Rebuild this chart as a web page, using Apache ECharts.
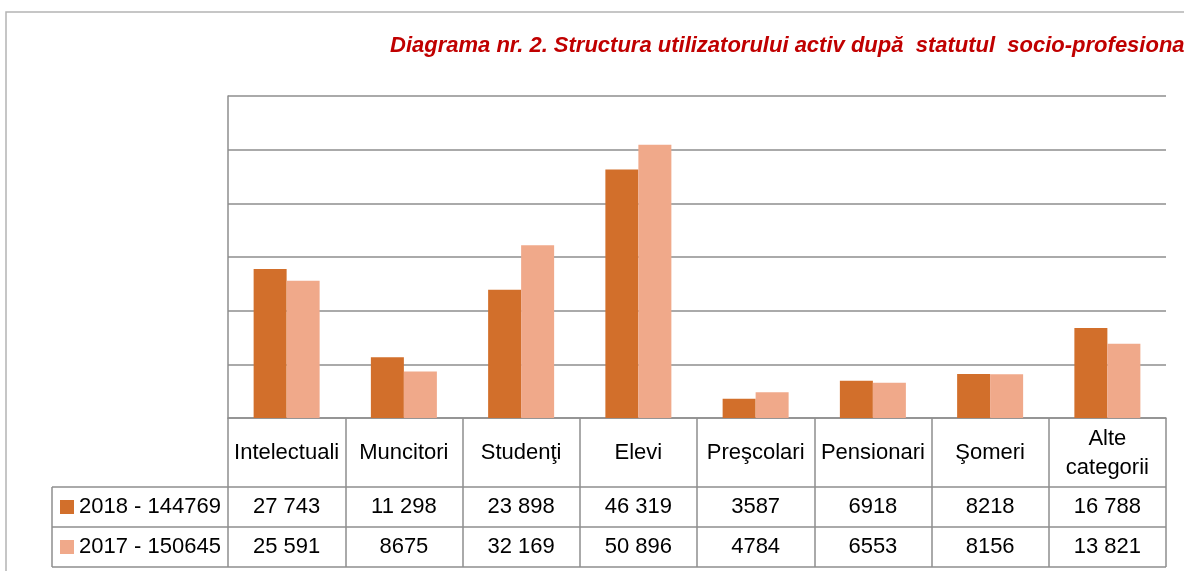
<!DOCTYPE html>
<html>
<head>
<meta charset="utf-8">
<script src="https://cdn.jsdelivr.net/npm/echarts@6/dist/echarts.min.js"></script>
<style>
  html, body { margin: 0; padding: 0; background: #fff; }
  #chart { width: 1184px; height: 571px; }
</style>
</head>
<body>
<div id="chart"></div>
<script>
const categories = ["Intelectuali", "Muncitori", "Studenţi", "Elevi", "Preşcolari", "Pensionari", "Şomeri", "Alte\ncategorii"];
const years = ["2018", "2017"];
const values2018 = [27743, 11298, 23898, 46319, 3587, 6918, 8218, 16788];
const values2017 = [25591, 8675, 32169, 50896, 4784, 6553, 8156, 13821];

const font = "'Liberation Sans', Arial, sans-serif";
const lineColor = "#8e8e8e";

// 27743 -> "27 743", 8675 -> "8675"
function fmt(v) {
  return v >= 10000 ? String(v).replace(/\B(?=(\d{3})+(?!\d))/g, " ") : String(v);
}
const sum = (arr) => arr.reduce((a, b) => a + b, 0);
const name2018 = years[0] + " - " + sum(values2018);
const name2017 = years[1] + " - " + sum(values2017);

const chart = echarts.init(document.getElementById("chart"));

const gridBox = { left: 228, right: 18, top: 96, bottom: 153 };

const option = {
  animation: false,
  title: {
    text: "Diagrama nr. 2. Structura utilizatorului activ după  statutul  socio-profesional",
    left: 390,
    top: 35,
    padding: 0,
    textStyle: {
      color: "#C00000",
      fontStyle: "italic",
      fontWeight: "bold",
      fontSize: 22,
      fontFamily: font,
    },
  },
  legend: {
    data: [name2018, name2017],
    orient: "vertical",
    left: 60,
    top: 496,
    padding: 0,
    itemGap: 18,
    icon: "rect",
    itemWidth: 14,
    itemHeight: 14,
    selectedMode: false,
    textStyle: { fontSize: 22, fontFamily: font, color: "#000", lineHeight: 22 },
  },
  grid: [
    Object.assign({}, gridBox),
    Object.assign({}, gridBox),
    Object.assign({}, gridBox),
  ],
  xAxis: [
    {
      type: "category",
      gridIndex: 0,
      data: categories,
      axisLine: { lineStyle: { color: lineColor, width: 1.5 } },
      axisTick: { show: true, length: 149, lineStyle: { color: lineColor, width: 1.5 } },
      axisLabel: {
        interval: 0,
        margin: 35,
        verticalAlign: "middle",
        fontSize: 22,
        lineHeight: 29,
        color: "#000",
        fontFamily: font,
      },
    },
    {
      type: "category",
      gridIndex: 1,
      data: categories,
      axisLine: { show: false },
      axisTick: { show: false },
      axisLabel: {
        interval: 0,
        margin: 89,
        verticalAlign: "middle",
        fontSize: 22,
        color: "#000",
        fontFamily: font,
        formatter: (v, i) => fmt(values2018[i]),
      },
    },
    {
      type: "category",
      gridIndex: 2,
      data: categories,
      axisLine: { show: false },
      axisTick: { show: false },
      axisLabel: {
        interval: 0,
        margin: 129,
        verticalAlign: "middle",
        fontSize: 22,
        color: "#000",
        fontFamily: font,
        formatter: (v, i) => fmt(values2017[i]),
      },
    },
  ],
  yAxis: [
    {
      type: "value",
      gridIndex: 0,
      min: 0,
      max: 60000,
      interval: 10000,
      axisLabel: { show: false },
      axisTick: { show: false },
      axisLine: { show: true, lineStyle: { color: lineColor, width: 1.5 } },
      splitLine: { show: true, lineStyle: { color: lineColor, width: 1.5 } },
    },
    { type: "value", gridIndex: 1, show: false },
    { type: "value", gridIndex: 2, show: false },
  ],
  series: [
    {
      name: name2018,
      type: "bar",
      xAxisIndex: 0,
      yAxisIndex: 0,
      barWidth: 33,
      barGap: "0%",
      itemStyle: { color: "#D26F2B" },
      data: values2018,
    },
    {
      name: name2017,
      type: "bar",
      xAxisIndex: 0,
      yAxisIndex: 0,
      barWidth: 33,
      barGap: "0%",
      itemStyle: { color: "#F0A98A" },
      data: values2017,
    },
  ],
  // table frame + outer border
  graphic: [
    { type: "rect", z: -1, shape: { x: 6, y: 12, width: 1400, height: 800 }, style: { fill: null, stroke: "#b4b4b4", lineWidth: 1.5 } },
    { type: "line", shape: { x1: 52, y1: 487, x2: 1166, y2: 487 }, style: { stroke: lineColor, lineWidth: 1.5 } },
    { type: "line", shape: { x1: 52, y1: 527, x2: 1166, y2: 527 }, style: { stroke: lineColor, lineWidth: 1.5 } },
    { type: "line", shape: { x1: 52, y1: 567, x2: 1166, y2: 567 }, style: { stroke: lineColor, lineWidth: 1.5 } },
    { type: "line", shape: { x1: 52, y1: 487, x2: 52, y2: 567 }, style: { stroke: lineColor, lineWidth: 1.5 } },
  ],
};

chart.setOption(option);
</script>
</body>
</html>
